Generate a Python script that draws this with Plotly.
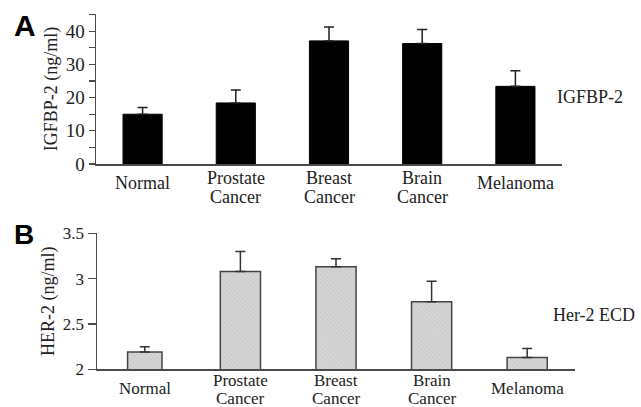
import plotly.graph_objects as go

categories = ["Normal", "Prostate<br>Cancer", "Breast<br>Cancer", "Brain<br>Cancer", "Melanoma"]
igfbp2_mean = [15.0, 18.4, 37.1, 36.3, 23.4]
igfbp2_err = [2.0, 3.9, 4.2, 4.2, 4.7]
her2_mean = [2.19, 3.08, 3.13, 2.745, 2.13]
her2_err = [0.06, 0.22, 0.09, 0.225, 0.10]
igfbp2_ticks = [0, 10, 20, 30, 40]
her2_ticks = [2, 2.5, 3, 3.5]
her2_ticktext = ["2", "2.5", "3", "3.5"]

W, H = 641, 407
x_idx = list(range(len(categories)))

serif = "Liberation Serif, Times New Roman, serif"
sans = "Liberation Sans, Arial, sans-serif"
axis_col = "#4a4a4a"
txt_col = "#222"

fig = go.Figure()

fig.add_trace(go.Bar(
    x=x_idx, y=igfbp2_mean, width=0.42,
    marker=dict(color="black", line=dict(color="black", width=1)),
    error_y=dict(type="data", symmetric=False, array=igfbp2_err,
                 arrayminus=[0] * len(igfbp2_err), color="#222", thickness=1.5, width=5),
    xaxis="x", yaxis="y", showlegend=False, hoverinfo="skip",
))

fig.add_trace(go.Bar(
    x=x_idx, y=her2_mean, width=[0.36, 0.42, 0.42, 0.42, 0.42],
    marker=dict(color="#d2d2d2", line=dict(color="#444", width=1.5),
                pattern=dict(shape="\\", fgcolor="#b8b8b8", bgcolor="#d6d6d6", size=3, solidity=0.3)),
    error_y=dict(type="data", symmetric=False, array=her2_err,
                 arrayminus=[0] * len(her2_err), color="#333", thickness=1.5, width=5),
    xaxis="x2", yaxis="y2", showlegend=False, hoverinfo="skip",
))

common_x = dict(
    tickmode="array", tickvals=x_idx, showticklabels=False, range=[-0.5, 4.5],
    showline=True, linecolor=axis_col, linewidth=1.5, ticks="", showgrid=False,
    zeroline=False, automargin=False, fixedrange=True,
)
common_y = dict(
    ticks="outside", tickcolor=axis_col, tickwidth=1.2,
    showline=True, linecolor=axis_col, linewidth=1.5, showgrid=False, zeroline=False,
    automargin=False, fixedrange=True,
)

annotations = [
    dict(text="<b>A</b>", x=12 / W, y=1 - 26 / H, xref="paper", yref="paper",
         xanchor="left", yanchor="middle", showarrow=False,
         font=dict(family=sans, size=30, color="black")),
    dict(text="<b>B</b>", x=12 / W, y=1 - 235 / H, xref="paper", yref="paper",
         xanchor="left", yanchor="middle", showarrow=False,
         font=dict(family=sans, size=28, color="black")),
    dict(text="IGFBP-2", x=555 / W, y=1 - 97 / H, xref="paper", yref="paper",
         xanchor="left", yanchor="middle", showarrow=False,
         font=dict(family=serif, size=18, color=txt_col)),
    dict(text="Her-2 ECD", x=551 / W, y=1 - 315 / H, xref="paper", yref="paper",
         xanchor="left", yanchor="middle", showarrow=False,
         font=dict(family=serif, size=18, color=txt_col)),
]

# category labels, one annotation per text line, below each panel's x axis
panel_rows = [("x", 183, 178, 197, 18), ("x2", 388, 380.5, 398.5, 17)]
for xref, single_y, first_y, second_y, fsize in panel_rows:
    for i, cat in enumerate(categories):
        lines = cat.split("<br>")
        ys = [single_y] if len(lines) == 1 else [first_y, second_y]
        for line, yy in zip(lines, ys):
            annotations.append(dict(
                text=line, x=i, y=1 - yy / H, xref=xref, yref="paper",
                xanchor="center", yanchor="middle", showarrow=False,
                font=dict(family=serif, size=fsize, color=txt_col)))

fig.update_layout(
    width=W, height=H,
    margin=dict(l=0, r=0, t=0, b=0, autoexpand=False),
    paper_bgcolor="white", plot_bgcolor="white",
    hovermode=False,
    xaxis=dict(domain=[96 / W, 562 / W], anchor="y", **common_x),
    yaxis=dict(domain=[1 - 164 / H, 1 - 14 / H], range=[0, 45.2], anchor="x",
               tickvals=igfbp2_ticks, ticklen=6,
               tickfont=dict(family=serif, size=19, color=txt_col),
               minor=dict(dtick=5, tick0=0, ticks="outside", ticklen=6, tickcolor=axis_col, tickwidth=1.2),
               title=dict(text="IGFBP-2 (ng/ml)", font=dict(family=serif, size=18, color=txt_col), standoff=3),
               **common_y),
    xaxis2=dict(domain=[97 / W, 575 / W], anchor="y2", **common_x),
    yaxis2=dict(domain=[1 - 369.3 / H, 1 - 233.3 / H], range=[2, 3.5], anchor="x2",
                tickvals=her2_ticks, ticktext=her2_ticktext, ticklen=8,
                tickfont=dict(family=serif, size=17, color=txt_col),
                title=dict(text="HER-2 (ng/ml)", font=dict(family=serif, size=18, color=txt_col), standoff=3),
                **common_y),
    annotations=annotations,
)

fig.write_html("out.html", config={"displayModeBar": False, "staticPlot": True},
               post_script="document.body.style.margin='0px';document.body.style.overflow='hidden';")
